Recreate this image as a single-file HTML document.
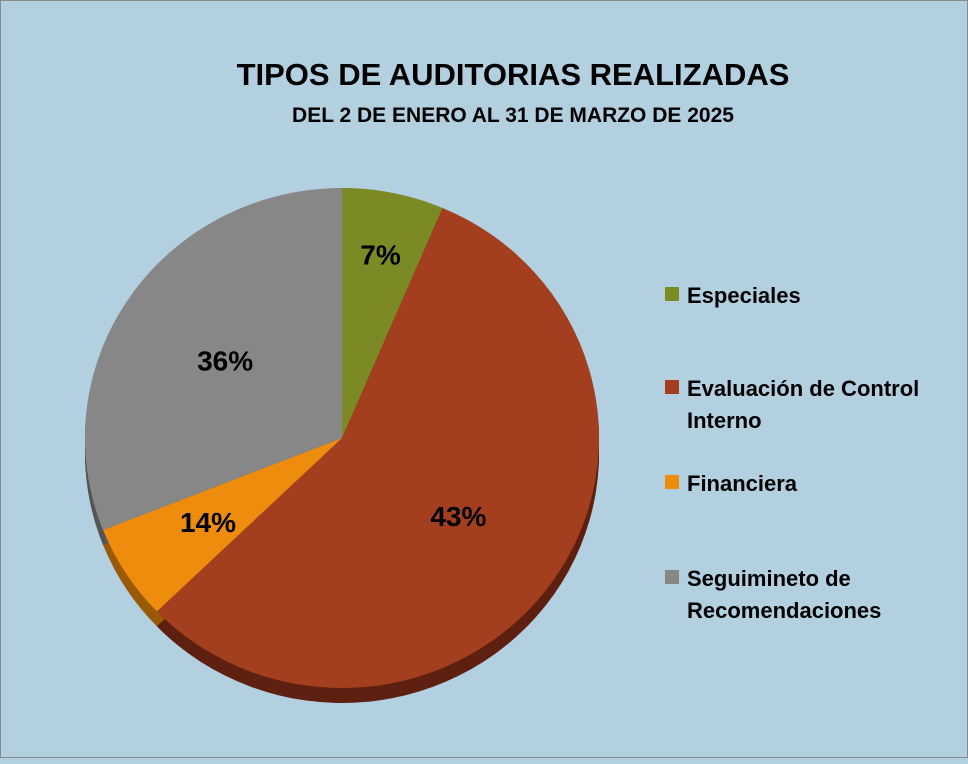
<!DOCTYPE html>
<html><head><meta charset="utf-8"><style>
body{margin:0;width:968px;height:758px;overflow:hidden;background:#b3d0e1;font-family:"Liberation Sans",sans-serif}
#wrap{position:absolute;left:0;top:0;width:966px;height:756px;border:1px solid #8a8a8a;background:#b3d0e1}
</style></head><body>
<div id="wrap">
<svg id="chart" width="968" height="758">
<text x="512" y="84" text-anchor="middle" font-size="31" font-weight="bold" fill="#000">TIPOS DE AUDITORIAS REALIZADAS</text>
<text x="512" y="121" text-anchor="middle" font-size="21" font-weight="bold" fill="#000">DEL 2 DE ENERO AL 31 DE MARZO DE 2025</text>
<g id="depth"></g><g id="slices"></g><g id="labels"></g><g id="legend"></g>
</svg></div>
<script>
const categories=["Especiales","Evaluación de Control Interno","Financiera","Seguimineto de Recomendaciones"];
const values=[6.4,56.4,6.2,31.0];
const valueLabels=["7%","43%","14%","36%"];
const colors=["#7b8a25","#a33f1f","#ee8d0d","#878787"];
const darks=["#4f5a15","#5e2010","#9a5a06","#555555"];
const NS="http://www.w3.org/2000/svg";
const cx=341,cy=437,rx=257,ry=250,depth=15;
const total=values.reduce((a,b)=>a+b,0);
function pt(a,dy){return [cx+rx*Math.sin(a),cy+dy-ry*Math.cos(a)];}
function arcPath(a0,a1,dy){const p0=pt(a0,dy),p1=pt(a1,dy);const large=(a1-a0)>Math.PI?1:0;
return `M${cx},${cy+dy}L${p0[0]},${p0[1]}A${rx},${ry} 0 ${large} 1 ${p1[0]},${p1[1]}Z`;}
const dg=document.getElementById('depth'),sg=document.getElementById('slices'),lg=document.getElementById('labels'),leg=document.getElementById('legend');
let acc=0;
values.forEach((v,i)=>{
 const a0=acc/total*2*Math.PI;acc+=v;const a1=acc/total*2*Math.PI;
 for(let d=depth;d>0;d-=1){const p=document.createElementNS(NS,'path');p.setAttribute('d',arcPath(a0,a1,d));p.setAttribute('fill',darks[i]);
 
 
 dg.appendChild(p);}
 const s=document.createElementNS(NS,'path');s.setAttribute('d',arcPath(a0,a1,0));s.setAttribute('fill',colors[i]);
 
 
 sg.appendChild(s);
 const am=(a0+a1)/2;const r=i==0?0.75:(i==2?0.62:0.55);
 const t=document.createElementNS(NS,'text');t.setAttribute('x',cx+rx*r*Math.sin(am));t.setAttribute('y',cy-ry*r*Math.cos(am)+10);
 t.setAttribute('text-anchor','middle');t.setAttribute('font-size','28');t.setAttribute('font-weight','bold');t.textContent=valueLabels[i];
 
 
 lg.appendChild(t);
});
const legY=[294,387,482,577];
const legLines=[["Especiales"],["Evaluación de Control","Interno"],["Financiera"],["Seguimineto de","Recomendaciones"]];
categories.forEach((c,i)=>{
 const r=document.createElementNS(NS,'rect');r.setAttribute('x',664);r.setAttribute('y',legY[i]-8);r.setAttribute('width',14);r.setAttribute('height',14);r.setAttribute('fill',colors[i]);
 
 
 leg.appendChild(r);
 legLines[i].forEach((l,j)=>{const t=document.createElementNS(NS,'text');t.setAttribute('x',686);t.setAttribute('y',legY[i]+8+j*32);t.setAttribute('font-size','22');t.setAttribute('font-weight','bold');t.textContent=l;
 
 
 leg.appendChild(t);});
});
</script>
</body></html>
